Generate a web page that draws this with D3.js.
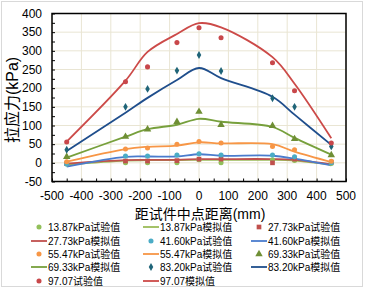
<!DOCTYPE html>
<html>
<head>
<meta charset="utf-8">
<script src="https://cdn.jsdelivr.net/npm/d3@7"></script>
<style>
  body { margin: 0; background: #fff; }
  text { font-family: "Liberation Sans", Arial, "Noto Sans CJK SC", sans-serif; fill: #000; }
</style>
</head>
<body>
<div id="chart"></div>
<script>
// distance from specimen midpoint (mm)
const distances = [-450, -250, -175, -75, 0, 75, 250, 325, 450];

// tensile stress (kPa), test values and simulated values for each load level
const test1387 = [-3, 0, 0, 0, 8, 0, 8, 6, -2];
const sim1387 = [-5, 6, 7, 7, 8, 8, 8, 6, -5];
const test2773 = [-2, 5, 5, 6, 10, 10, 0, 10, 2];
const sim2773 = [-2, 7, 8, 8, 10, 10, 10, 8, -4];
const test4160 = [-3, 18, 18, 21, 24, 21, 21, 16, 0];
const sim4160 = [-10, 16, 17, 17, 23, 19, 19, 11, -7];
const test5547 = [3, 37, 40, 50, 57, 53, 44, 35, 4];
const sim5547 = [3, 37, 43, 46, 55, 52, 50, 30, 2];
const test6933 = [16, 70, 90, 110, 137, 102, 99, 64, 21];
const sim6933 = [14, 70, 90, 102, 118, 110, 96, 67, 22];
const test8320 = [35, 150, 198, 247, 289, 246, 173, 150, 44];
const sim8320 = [32, 134, 174, 222, 254, 227, 177, 129, 48];
const test9707 = [56, 217, 257, 322, 362, 335, 268, 193, 53];
const sim9707 = [57, 220, 297, 345, 374, 363, 283, 212, 66];

const xTicks = [-500, -400, -300, -200, -100, 0, 100, 200, 300, 400, 500];
const yTicks = [-50, 0, 50, 100, 150, 200, 250, 300, 350, 400];

// legend order follows the reference (row by row, 3 per row)
const series = [
  { name: "13.87kPa试验值", kind: "test", shape: "circle", color: "#92c05a", values: test1387 },
  { name: "13.87kPa模拟值", kind: "sim", color: "#9bbb59", values: sim1387 },
  { name: "27.73kPa试验值", kind: "test", shape: "square", color: "#c0504d", values: test2773 },
  { name: "27.73kPa模拟值", kind: "sim", color: "#c0504d", values: sim2773 },
  { name: "41.60kPa试验值", kind: "test", shape: "circle", color: "#4bacc6", values: test4160 },
  { name: "41.60kPa模拟值", kind: "sim", color: "#4a7ccd", values: sim4160 },
  { name: "55.47kPa试验值", kind: "test", shape: "circle", color: "#f79646", values: test5547 },
  { name: "55.47kPa模拟值", kind: "sim", color: "#f79646", values: sim5547 },
  { name: "69.33kPa试验值", kind: "test", shape: "triangle", color: "#6f8f35", values: test6933 },
  { name: "69.33kPa模拟值", kind: "sim", color: "#77a03c", values: sim6933 },
  { name: "83.20kPa试验值", kind: "test", shape: "diamond", color: "#1f6478", values: test8320 },
  { name: "83.20kPa模拟值", kind: "sim", color: "#1f4e8c", values: sim8320 },
  { name: "97.07试验值", kind: "test", shape: "circle", color: "#c8474a", values: test9707 },
  { name: "97.07模拟值", kind: "sim", color: "#cc4a48", values: sim9707 }
];

const width = 368, height = 290;
const plot = { left: 52, right: 346, top: 13.5, bottom: 181.5 };

const svg = d3.select("#chart").append("svg")
  .attr("width", width)
  .attr("height", height);

svg.append("rect")
  .attr("x", 1.5).attr("y", 1.5)
  .attr("width", 361).attr("height", 285)
  .attr("fill", "#fff")
  .attr("stroke", "#d9d9d9");

const x = d3.scaleLinear().domain([-500, 500]).range([plot.left, plot.right]);
const y = d3.scaleLinear().domain([-50, 400]).range([plot.bottom, plot.top]);

// grid
svg.append("g")
  .selectAll("line.h")
  .data(yTicks)
  .join("line")
  .attr("x1", plot.left).attr("x2", plot.right)
  .attr("y1", d => y(d)).attr("y2", d => y(d))
  .attr("stroke", "#e9e5d3");
svg.append("g")
  .selectAll("line.v")
  .data(xTicks)
  .join("line")
  .attr("y1", plot.top).attr("y2", plot.bottom)
  .attr("x1", d => x(d)).attr("x2", d => x(d))
  .attr("stroke", "#e9e5d3");

// axes with inward minor ticks
const yAxis = svg.append("g")
  .attr("transform", `translate(${plot.left},0)`)
  .call(d3.axisRight(y).tickValues(d3.range(-50, 401, 25)).tickSize(3).tickFormat(""));
yAxis.select(".domain").remove();
const xAxis = svg.append("g")
  .attr("transform", `translate(0,${plot.bottom})`)
  .call(d3.axisTop(x).tickValues(d3.range(-500, 501, 50)).tickSize(3).tickFormat(""));
xAxis.select(".domain").remove();

svg.append("g")
  .selectAll("text")
  .data(yTicks)
  .join("text")
  .attr("x", plot.left - 10)
  .attr("y", d => y(d))
  .attr("dy", "0.35em")
  .attr("text-anchor", "end")
  .attr("font-size", 12)
  .text(d => d);
svg.append("g")
  .selectAll("text")
  .data(xTicks)
  .join("text")
  .attr("x", d => x(d))
  .attr("y", 200)
  .attr("text-anchor", "middle")
  .attr("font-size", 12)
  .text(d => d);

// frame
svg.append("rect")
  .attr("x", plot.left).attr("y", plot.top)
  .attr("width", plot.right - plot.left)
  .attr("height", plot.bottom - plot.top)
  .attr("fill", "none")
  .attr("stroke", "#000")
  .attr("stroke-width", 1.5);

// titles
svg.append("text")
  .attr("transform", "translate(18,100) rotate(-90)")
  .attr("text-anchor", "middle")
  .attr("font-size", 16)
  .text("拉应力(kPa)");
svg.append("text")
  .attr("x", 200).attr("y", 219)
  .attr("text-anchor", "middle")
  .attr("font-size", 14)
  .text("距试件中点距离(mm)");

const line = d3.line()
  .x((d, i) => x(distances[i]))
  .y(d => y(d))
  .curve(d3.curveCatmullRom);

const symbolType = {
  circle: d3.symbolCircle,
  square: d3.symbolSquare,
  triangle: d3.symbolTriangle,
  diamond: d3.symbolDiamond
};
const symbolSize = { circle: 20, square: 22, triangle: 24, diamond: 18 };

const marker = s => d3.symbol().type(symbolType[s.shape]).size(symbolSize[s.shape])();

series.forEach(s => {
  if (s.kind === "sim") {
    svg.append("path")
      .datum(s.values)
      .attr("fill", "none")
      .attr("stroke", s.color)
      .attr("stroke-width", 1.8)
      .attr("d", line);
  }
});
series.forEach(s => {
  if (s.kind === "test") {
    svg.append("g")
      .selectAll("path")
      .data(s.values)
      .join("path")
      .attr("transform", (d, i) => `translate(${x(distances[i])},${y(d)})`)
      .attr("d", marker(s))
      .attr("fill", s.color);
  }
});

// legend
const colX = [31, 143, 251];
const rowY = [227, 241, 254, 267, 281];
const legend = svg.append("g");
series.forEach((s, i) => {
  const cx = colX[i % 3], cy = rowY[Math.floor(i / 3)];
  if (s.kind === "sim") {
    legend.append("line")
      .attr("x1", cx).attr("x2", cx + 16)
      .attr("y1", cy).attr("y2", cy)
      .attr("stroke", s.color)
      .attr("stroke-width", 1.8);
  } else {
    legend.append("path")
      .attr("transform", `translate(${cx + 8},${cy})`)
      .attr("d", marker(s))
      .attr("fill", s.color);
  }
  legend.append("text")
    .attr("x", cx + 17)
    .attr("y", cy)
    .attr("dy", "0.35em")
    .attr("font-size", 10)
    .text(s.name);
});
</script>
</body>
</html>
